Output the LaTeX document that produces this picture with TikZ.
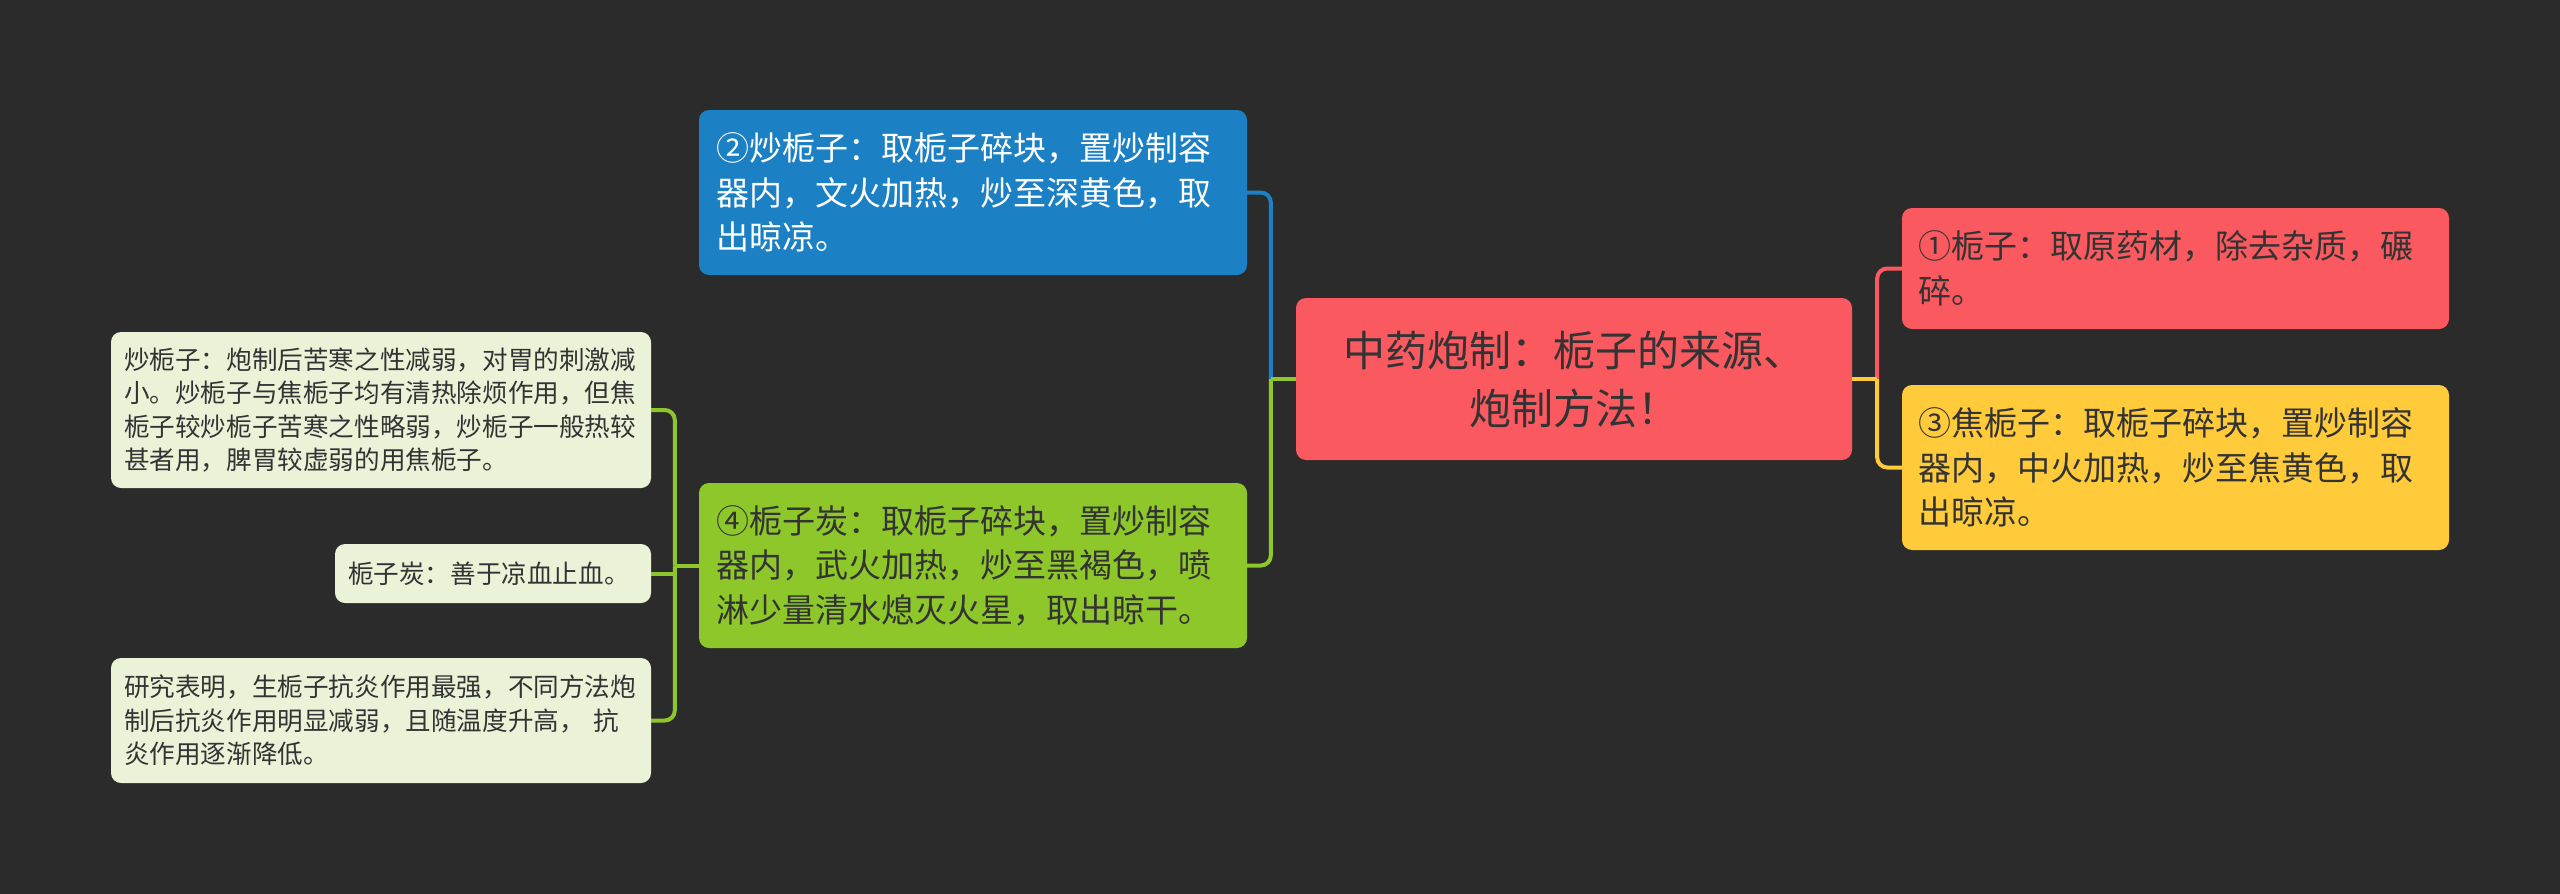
\documentclass[tikz,border=0pt]{standalone}
\usepackage{fontspec}
\setmainfont{Noto Sans CJK SC}
\definecolor{bg}{HTML}{2B2B2B}
\definecolor{redC}{HTML}{FA5A5F}
\definecolor{blueC}{HTML}{1C80C4}
\definecolor{greenC}{HTML}{8DC72A}
\definecolor{yellowC}{HTML}{FFCB3A}
\definecolor{leafC}{HTML}{EAF3D8}
\definecolor{darkT}{HTML}{333333}
\tikzset{
  box/.style={rounded corners=10pt, inner ysep=0pt, align=left, anchor=center, text=darkT},
  mainbox/.style={box, font=\fontsize{33}{44.4}\selectfont, inner xsep=17pt, text width=514pt, minimum height=165pt},
  rightbox/.style={box, font=\fontsize{33}{44.4}\selectfont, inner xsep=16pt, text width=515pt},
  leafbox/.style={box, fill=leafC, font=\fontsize{25.6}{33.3}\selectfont, inner xsep=13pt},
  conn/.style={line width=4pt, rounded corners=10pt}
}
\begin{document}
\begin{tikzpicture}[x=1pt,y=-1pt]
\fill[bg] (0,0) rectangle (2560,894);
\useasboundingbox (0,0) rectangle (2560,894);

\node[box, fill=redC, align=center, font=\fontsize{42}{58}\selectfont, inner xsep=38pt, text width=480pt, minimum height=162pt] (root) at (1574,379) {中药炮制：栀子的来源、\\炮制方法！};

\node[rightbox, fill=redC, minimum height=121pt] (n1) at (2175.5,268.5) {①栀子：取原药材，除去杂质，碾\\碎。};
\node[rightbox, fill=yellowC, minimum height=165pt] (n3) at (2175.5,467.5) {③焦栀子：取栀子碎块，置炒制容\\器内，中火加热，炒至焦黄色，取\\出晾凉。};

\node[mainbox, fill=blueC, text=white] (n2) at (973,192.5) {②炒栀子：取栀子碎块，置炒制容\\器内，文火加热，炒至深黄色，取\\出晾凉。};
\node[mainbox, fill=greenC] (n4) at (973,565.5) {④栀子炭：取栀子碎块，置炒制容\\器内，武火加热，炒至黑褐色，喷\\淋少量清水熄灭火星，取出晾干。};

\node[leafbox, text width=514pt, minimum height=156pt] (l1) at (381,410) {炒栀子：炮制后苦寒之性减弱，对胃的刺激减\\小。炒栀子与焦栀子均有清热除烦作用，但焦\\栀子较炒栀子苦寒之性略弱，炒栀子一般热较\\甚者用，脾胃较虚弱的用焦栀子。};
\node[leafbox, text width=290pt, minimum height=59pt] (l2) at (493,573.5) {栀子炭：善于凉血止血。};
\node[leafbox, text width=514pt, minimum height=125pt] (l3) at (381,720.5) {研究表明，生栀子抗炎作用最强，不同方法炮\\制后抗炎作用明显减弱，且随温度升高， 抗\\炎作用逐渐降低。};

\coordinate (jl) at ([xshift=-25pt]root.west);
\coordinate (jr) at ([xshift=25pt]root.east);
\coordinate (jg) at ([xshift=-24pt]n4.west);

\draw[conn, blueC] (jl) |- (n2.east);
\draw[conn, greenC] (jl) |- (n4.east);
\draw[line width=4pt, greenC] (root.west) -- (jl);

\draw[conn, redC] (jr) |- (n1.west);
\draw[conn, yellowC] (jr) |- (n3.west);
\draw[line width=4pt, yellowC] (root.east) -- (jr);

\draw[conn, greenC] (jg) |- (l1.east);
\draw[conn, greenC] (jg) |- (l3.east);
\draw[line width=4pt, greenC] (n4.west) -- (jg);
\draw[line width=4pt, greenC] (jg |- l2.east) -- (l2.east);
\end{tikzpicture}
\end{document}
